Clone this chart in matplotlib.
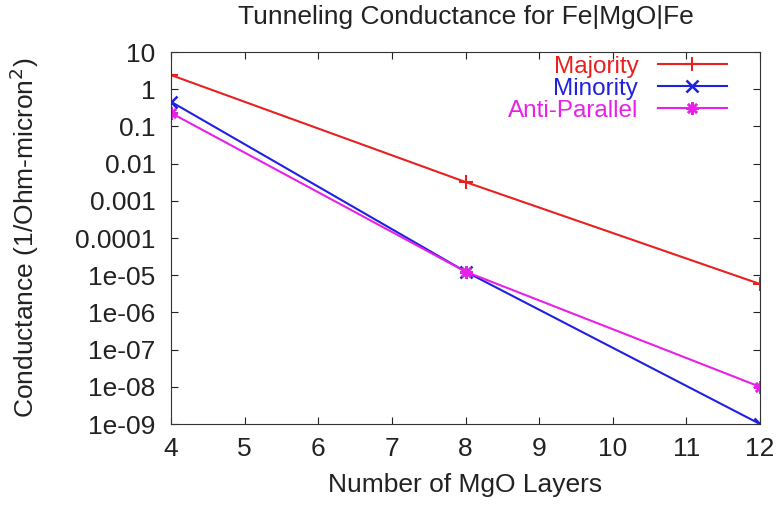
import matplotlib
matplotlib.use('Agg')
import matplotlib.pyplot as plt

plt.rcParams['font.family'] = ['Liberation Sans', 'DejaVu Sans']

layers = [4, 8, 12]
majority = [2.4, 0.0032, 5.8e-6]
minority = [0.46, 1.25e-5, 1e-9]
anti_parallel = [0.23, 1.25e-5, 1e-8]

y_ticks = [10, 1, 0.1, 0.01, 0.001, 0.0001, 1e-5, 1e-6, 1e-7, 1e-8, 1e-9]
y_labels = ['10', '1', '0.1', '0.01', '0.001', '0.0001', '1e-05', '1e-06',
            '1e-07', '1e-08', '1e-09']
x_ticks = [4, 5, 6, 7, 8, 9, 10, 11, 12]

fig = plt.figure(figsize=(7.78, 5.09), dpi=100)
# plot box: x 171..760, y 52..424 (pixels from top-left)
ax = fig.add_axes([171 / 778, 85 / 509, 589 / 778, 372 / 509])

ax.plot(layers, majority, color='#e82020', marker='+', markersize=10, lw=1.5, mew=1.5,
        label='Majority')
ax.plot(layers, minority, color='#2020e0', marker='x', markersize=8, lw=1.5, mew=1.8,
        label='Minority')
ax.plot(layers, anti_parallel, color='#e820e8', marker=(8, 2, 0), markersize=9, lw=1.5, mew=1.8,
        label='Anti-Parallel')

ax.set_yscale('log')
ax.set_xlim(4, 12)
ax.set_ylim(1e-9, 10)
ax.set_xticks(x_ticks)
ax.set_yticks(y_ticks)
ax.set_yticklabels(y_labels)
ax.minorticks_off()
ax.tick_params(direction='in', top=True, right=True, length=5, width=0.8,
               labelsize=19, colors='#222222')
ax.tick_params(axis='x', pad=9)
ax.tick_params(axis='y', pad=11)
for s in ax.spines.values():
    s.set_color('#333333')

ax.set_xlabel('Number of MgO Layers', fontsize=19, labelpad=9, color='#222222')
ax.set_ylabel('Conductance (1/Ohm-micron$^2$)', fontsize=19, color='#222222')
ax.yaxis.set_label_coords(-0.22, 0.5)
ax.set_title('Tunneling Conductance for Fe|MgO|Fe', fontsize=19, pad=20, color='#222222')

leg = ax.legend(loc='upper right', bbox_to_anchor=(0.944, 0.99), frameon=False,
                markerfirst=False, fontsize=17.5, handlelength=2.85, labelspacing=0.0,
                borderaxespad=0, borderpad=0, handletextpad=0.8)
for txt, line in zip(leg.get_texts(), leg.get_lines()):
    txt.set_color(line.get_color())

fig.savefig('out.png', dpi=100)
